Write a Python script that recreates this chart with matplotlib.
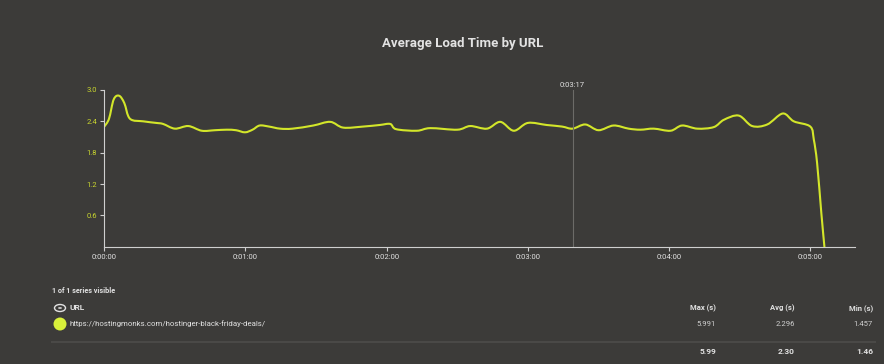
import matplotlib
matplotlib.use('Agg')
import matplotlib.pyplot as plt
from matplotlib.patches import Ellipse, Circle, PathPatch
from matplotlib.path import Path
from matplotlib.lines import Line2D

plt.rcParams['font.family'] = ['Roboto', 'DejaVu Sans']

# load time samples (seconds since start, seconds)
times = [0, 2, 4, 6.3, 8.5, 10.9, 16.6, 22, 25, 30, 35.7, 41.4, 47, 52, 56, 59.8, 63,
         66, 70, 74.7, 80, 88.8, 96, 101.5, 110, 117, 121.5, 124, 132.8, 138.5,
         150, 155.5, 162.6, 168.3, 174, 180, 188, 194.5, 199, 204.4, 210, 216.4,
         222.8, 227.8, 233.5, 240.6, 245.5, 252, 259, 263.3, 269.6, 275.3, 281.7,
         288.3, 293, 300, 301.5, 302.9, 304.7, 306]
load = [2.30, 2.45, 2.82, 2.89, 2.75, 2.45, 2.40, 2.37, 2.35, 2.26, 2.31, 2.22, 2.23, 2.24, 2.23, 2.19, 2.24,
        2.32, 2.30, 2.26, 2.26, 2.32, 2.39, 2.28, 2.30, 2.33, 2.35, 2.25, 2.22, 2.27,
        2.24, 2.31, 2.26, 2.39, 2.22, 2.37, 2.33, 2.30, 2.26, 2.34, 2.23, 2.32,
        2.26, 2.24, 2.26, 2.22, 2.32, 2.26, 2.29, 2.43, 2.51, 2.31, 2.34,
        2.55, 2.40, 2.30, 2.05, 1.60, 0.64, 0.0]

y_ticks = [0.6, 1.2, 1.8, 2.4, 3.0]
x_ticks = [0, 60, 120, 180, 240, 300]
x_labels = ['0:00:00', '0:01:00', '0:02:00', '0:03:00', '0:04:00', '0:05:00']
cursor_t = 199
cursor_label = '0:03:17'

series_name = 'https://hostingmonks.com/hostinger-black-friday-deals/'
col_names = ['Max (s)', 'Avg (s)', 'Min (s)']
row_vals = ['5.991', '2.296', '1.457']
total_vals = ['5.99', '2.30', '1.46']

bg = '#3c3b39'
line_col = '#d3e62a'
axis_col = '#cfcfcf'
text_col = '#e2e2e2'


def smooth_path(xs, ys):
    # Catmull-Rom curve through the points, drawn as cubic bezier segments
    verts = [(xs[0], ys[0])]
    codes = [Path.MOVETO]
    n = len(xs)
    for i in range(n - 1):
        x0, y0 = (xs[i - 1], ys[i - 1]) if i > 0 else (xs[i], ys[i])
        x1, y1 = xs[i], ys[i]
        x2, y2 = xs[i + 1], ys[i + 1]
        x3, y3 = (xs[i + 2], ys[i + 2]) if i + 2 < n else (x2, y2)
        c1 = (x1 + (x2 - x0) / 6, y1 + (y2 - y0) / 6)
        c2 = (x2 - (x3 - x1) / 6, y2 - (y3 - y1) / 6)
        verts += [c1, c2, (x2, y2)]
        codes += [Path.CURVE4] * 3
    return Path(verts, codes)


W, H = 884, 364
fig = plt.figure(figsize=(W / 100, H / 100), dpi=100, facecolor=bg)
ax = fig.add_axes([104.3 / W, 1 - 246.7 / H, (855 - 104.3) / W, 156.7 / H])
ax.set_facecolor(bg)

ax.add_patch(PathPatch(smooth_path(times, load), fill=False, ec=line_col, lw=1.5,
                       joinstyle='round', capstyle='round'))
ax.axvline(cursor_t, color='#6c6b68', lw=0.8)
ax.text(cursor_t, 3.03, cursor_label, ha='center', va='bottom', fontsize=5.5, color=text_col)

ax.set_xlim(0, 319)
ax.set_ylim(0, 3.0)
ax.set_yticks(y_ticks)
ax.set_yticklabels([f'{v:.1f}' for v in y_ticks])
ax.set_xticks(x_ticks)
ax.set_xticklabels(x_labels)
ax.tick_params(axis='y', colors=axis_col, labelcolor='#c9d62f', labelsize=5.5, length=3, width=0.8, pad=2)
ax.tick_params(axis='x', colors=axis_col, labelcolor=text_col, labelsize=5.5, length=3, width=0.8, pad=2)
for s in ['top', 'right']:
    ax.spines[s].set_visible(False)
for s in ['left', 'bottom']:
    ax.spines[s].set_color(axis_col)
    ax.spines[s].set_linewidth(0.8)

fig.text(463 / W, 1 - 43 / H, 'Average Load Time by URL', ha='center', va='center',
         fontsize=9.5, fontweight='bold', color=text_col)

# legend table
fig.text(52 / W, 1 - 291 / H, '1 of 1 series visible', ha='left', va='center',
         fontsize=5.2, fontweight='bold', color=text_col)
fig.patches.append(Ellipse((60 / W, 1 - 308 / H), 11 / W, 7 / H, transform=fig.transFigure,
                           fill=False, ec=text_col, lw=1.0))
fig.patches.append(Circle((60 / W, 1 - 308 / H), 2.0 / W, transform=fig.transFigure,
                          fc=text_col, ec='none'))
fig.text(69 / W, 1 - 308 / H, 'URL', ha='left', va='center', fontsize=6, fontweight='bold', color=text_col)
fig.patches.append(Ellipse((60 / W, 1 - 324 / H), 13 / W, 13 / H, transform=fig.transFigure,
                           fc='#d8f03a', ec='none'))
fig.text(70 / W, 1 - 324 / H, series_name, ha='left', va='center', fontsize=5.7, color=text_col)

col_x = [716, 795, 873]
for cx, name, v, t in zip(col_x, col_names, row_vals, total_vals):
    fig.text(cx / W, 1 - 308 / H, name, ha='right', va='center', fontsize=5.5, fontweight='bold', color=text_col)
    fig.text(cx / W, 1 - 324 / H, v, ha='right', va='center', fontsize=5.5, color='#cfcfcf')
    fig.text(cx / W, 1 - 352 / H, t, ha='right', va='center', fontsize=6, fontweight='bold', color=text_col)

fig.lines.append(Line2D([52 / W, 875 / W], [1 - 342 / H, 1 - 342 / H], transform=fig.transFigure,
                        color='#4a4947', lw=1.5))

fig.savefig('out.png', dpi=100, facecolor=bg)
